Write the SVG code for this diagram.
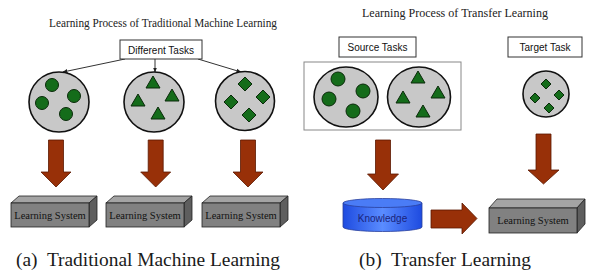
<svg xmlns="http://www.w3.org/2000/svg" width="594" height="280" viewBox="0 0 594 280">
<defs>
<style>
.title{font-family:"Liberation Serif","Times New Roman",serif;font-size:11.5px;fill:#222}
.lbl{font-family:"Liberation Sans",Arial,sans-serif;font-size:10px;fill:#111;text-anchor:middle}
.tbox{fill:#fff;stroke:#333;stroke-width:1}
.frame{fill:#fff;stroke:#888;stroke-width:1}
.ell{fill:#c8c8c8;stroke:#111;stroke-width:1.6}
.g{fill:#146c1a;stroke:#0a2a0a;stroke-width:1}
.barrow{fill:#983008;stroke:#5a1800;stroke-width:0.8}
.front{fill:#818181;stroke:#222;stroke-width:0.8}
.top{fill:#a4a4a4;stroke:#222;stroke-width:0.8}
.side{fill:#5e5e5e;stroke:#222;stroke-width:0.8}
.conn{stroke:#333;stroke-width:1;fill:none}
</style>
<marker id="ah" viewBox="0 0 10 10" refX="9" refY="5" markerWidth="5" markerHeight="5" orient="auto">
<path d="M0,1 L10,5 L0,9 Z" fill="#222"/>
</marker>
<linearGradient id="cyl" x1="0" y1="0" x2="1" y2="0">
<stop offset="0" stop-color="#1e4be0"/>
<stop offset="0.5" stop-color="#5a8cff"/>
<stop offset="1" stop-color="#1e4be0"/>
</linearGradient>
</defs>
<rect width="594" height="280" fill="#fff"/>

<text class="title" x="49" y="27" textLength="228" lengthAdjust="spacingAndGlyphs">Learning Process of Traditional Machine Learning</text>
<text class="title" x="362" y="17" textLength="186" lengthAdjust="spacingAndGlyphs">Learning Process of Transfer Learning</text>

<g id="connectors">
<line class="conn" x1="125" y1="59" x2="63" y2="72" marker-end="url(#ah)"/>
<line class="conn" x1="155" y1="59" x2="155" y2="72" marker-end="url(#ah)"/>
<line class="conn" x1="198" y1="59" x2="241" y2="72" marker-end="url(#ah)"/>
<path class="barrow" d="M48.5,140 H63.5 V172 H71 L56,187 L41,172 H48.5 Z"/>
<path class="barrow" d="M148.2,140 H163.2 V172 H170.7 L155.7,187 L140.7,172 H148.2 Z"/>
<path class="barrow" d="M240.5,140 H255.5 V172 H263 L248,187 L233,172 H240.5 Z"/>
<path class="barrow" d="M375.5,140 H390.5 V174 H398.5 L383,190 L367.5,174 H375.5 Z"/>
<path class="barrow" d="M536,134 H551 V170 H559 L543.5,184 L528,170 H536 Z"/>
<path class="barrow" d="M431,210 H462 V203 L477,218.5 L462,234 V228 H431 Z"/>
</g>

<g id="different-tasks">
<rect class="tbox" x="120" y="40" width="82" height="19"/>
<text class="lbl" x="161" y="53.5">Different Tasks</text>
</g>

<g id="tasks-circles">
<ellipse class="ell" cx="59" cy="102" rx="30" ry="30"/>
<circle class="g" cx="52" cy="85" r="6.5"/>
<circle class="g" cx="74" cy="96" r="6.5"/>
<circle class="g" cx="42" cy="103" r="6.5"/>
<circle class="g" cx="66" cy="114" r="6.5"/>
</g>

<g id="tasks-triangles">
<ellipse class="ell" cx="154" cy="102" rx="30" ry="30"/>
<path class="g" d="M153,76 L160,88 L146,88 Z"/>
<path class="g" d="M138,94 L145,106 L131,106 Z"/>
<path class="g" d="M172,89 L179,101 L165,101 Z"/>
<path class="g" d="M158,107 L165,119 L151,119 Z"/>
</g>

<g id="tasks-diamonds">
<ellipse class="ell" cx="245" cy="101" rx="29.5" ry="29.5"/>
<path class="g" d="M245,77 L252,84 L245,91 L238,84 Z"/>
<path class="g" d="M231,95 L238,102 L231,109 L224,102 Z"/>
<path class="g" d="M263,90 L270,97 L263,104 L256,97 Z"/>
<path class="g" d="M249,108 L256,115 L249,122 L242,115 Z"/>
</g>

<g id="ls-1">
<path class="top" d="M11,203 L19,196 L97,196 L89,203 Z"/>
<path class="side" d="M89,203 L97,196 L97,220 L89,227 Z"/>
<rect class="front" x="11" y="203" width="78" height="24"/>
<text x="50" y="219" font-family="Liberation Serif, serif" font-size="10.5" fill="#111" text-anchor="middle">Learning System</text>
</g>
<g id="ls-2">
<path class="top" d="M106,203 L114,196 L192,196 L184,203 Z"/>
<path class="side" d="M184,203 L192,196 L192,220 L184,227 Z"/>
<rect class="front" x="106" y="203" width="78" height="24"/>
<text x="145" y="219" font-family="Liberation Serif, serif" font-size="10.5" fill="#111" text-anchor="middle">Learning System</text>
</g>
<g id="ls-3">
<path class="top" d="M202,203 L210,196 L288,196 L280,203 Z"/>
<path class="side" d="M280,203 L288,196 L288,220 L280,227 Z"/>
<rect class="front" x="202" y="203" width="78" height="24"/>
<text x="241" y="219" font-family="Liberation Serif, serif" font-size="10.5" fill="#111" text-anchor="middle">Learning System</text>
</g>

<text x="16" y="266" font-family="Liberation Serif, serif" font-size="19" fill="#1a1a1a" textLength="264" lengthAdjust="spacingAndGlyphs" xml:space="preserve">(a)  Traditional Machine Learning</text>

<g id="source-tasks">
<rect class="tbox" x="339" y="37" width="77" height="20"/>
<text class="lbl" x="377.5" y="51">Source Tasks</text>
<rect class="frame" x="304" y="62" width="157" height="68"/>
<ellipse class="ell" cx="346" cy="97" rx="32" ry="30"/>
<circle class="g" cx="338" cy="79" r="7"/>
<circle class="g" cx="363" cy="91" r="7"/>
<circle class="g" cx="329" cy="99" r="7"/>
<circle class="g" cx="353" cy="111" r="7"/>
<ellipse class="ell" cx="419" cy="97" rx="31.5" ry="30"/>
<path class="g" d="M418,71 L425,83 L411,83 Z"/>
<path class="g" d="M403,91 L410,103 L396,103 Z"/>
<path class="g" d="M438,86 L445,98 L431,98 Z"/>
<path class="g" d="M423,105 L430,117 L416,117 Z"/>
</g>

<g id="target-task">
<rect class="tbox" x="508" y="37" width="74" height="20"/>
<text class="lbl" x="545" y="51">Target Task</text>
<ellipse class="ell" cx="546" cy="94" rx="23" ry="23"/>
<path class="g" d="M546,79 L551,84 L546,89 L541,84 Z"/>
<path class="g" d="M535,93 L540,98 L535,103 L530,98 Z"/>
<path class="g" d="M559,90 L564,95 L559,100 L554,95 Z"/>
<path class="g" d="M549,103 L554,108 L549,113 L544,108 Z"/>
</g>

<g id="knowledge">
<path d="M343,203 V227 A39.5,4.5 0 0 0 422,227 V203 Z" fill="url(#cyl)" stroke="#2a3f9a" stroke-width="0.8"/>
<ellipse cx="382.5" cy="203" rx="39.5" ry="4.5" fill="#4a7cf6" stroke="#2a3f9a" stroke-width="0.8"/>
<text x="382.5" y="222" font-family="Liberation Sans, Arial, sans-serif" font-size="10" fill="#1a237a" text-anchor="middle">Knowledge</text>
</g>

<g id="ls-target">
<path class="top" d="M489,208 L497,199 L585,199 L577,208 Z"/>
<path class="side" d="M577,208 L585,199 L585,224 L577,233 Z"/>
<rect class="front" x="489" y="208" width="88" height="25"/>
<text x="533" y="224" font-family="Liberation Serif, serif" font-size="10.5" fill="#111" text-anchor="middle">Learning System</text>
</g>

<text x="359" y="266" font-family="Liberation Serif, serif" font-size="19" fill="#1a1a1a" textLength="172" lengthAdjust="spacingAndGlyphs" xml:space="preserve">(b)  Transfer Learning</text>
</svg>
